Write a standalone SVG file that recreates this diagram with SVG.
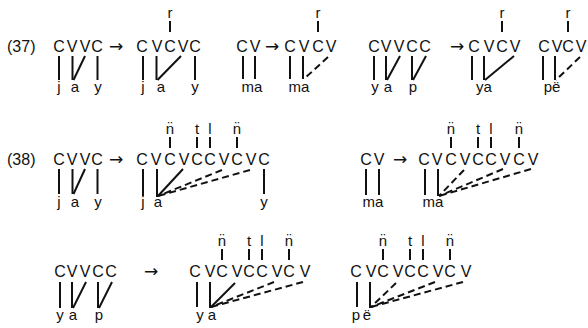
<svg xmlns="http://www.w3.org/2000/svg" width="588" height="328" viewBox="0 0 588 328">
<style>
text{font-family:"Liberation Sans",Arial,"DejaVu Sans",sans-serif;fill:#111;}
.cap{font-size:16px;text-anchor:middle;}
.lab{font-size:16px;}
.seg{font-size:15px;text-anchor:middle;}
.sup{font-size:15px;text-anchor:middle;}
.arr{font-family:"DejaVu Sans",sans-serif;font-size:17px;text-anchor:middle;}
line{stroke:#111;stroke-width:2;fill:none;}
.ds{stroke-dasharray:7 4;}
</style>
<rect width="588" height="328" fill="#fff"/>
<text class="lab" x="7" y="52">(37)</text>
<text class="lab" x="7" y="165">(38)</text>
<g id="arrows">
<text class="arr" x="116" y="52">→</text>
<text class="arr" x="272" y="52">→</text>
<text class="arr" x="457" y="52">→</text>
<text class="arr" x="116" y="165">→</text>
<text class="arr" x="400" y="165">→</text>
<text class="arr" x="151" y="277">→</text>
</g>
<!-- Row 37 -->
<g id="r37a-in">
<text class="cap" x="59 72 85 97" y="52">CVVC</text>
<text class="seg" x="59 75 98" y="92">jay</text>
</g>
<g id="r37a-out">
<text class="sup" x="170" y="18">r</text>
<text class="cap" x="142 157 170 183 195" y="52">CVCVC</text>
<text class="seg" x="143 161 195" y="92">jay</text>
</g>
<g id="r37b-in">
<text class="cap" x="242 255" y="52">CV</text>
<text class="seg" x="252" y="92">ma</text>
</g>
<g id="r37b-out">
<text class="sup" x="318" y="18">r</text>
<text class="cap" x="290 304 318 331" y="52">CVCV</text>
<text class="seg" x="299" y="92">ma</text>
</g>
<g id="r37c-in">
<text class="cap" x="374 386 399 412 425" y="52">CVVCC</text>
<text class="seg" x="375 388" y="92">ya</text>
<text class="seg" x="413" y="92">p</text>
</g>
<g id="r37c-out">
<text class="sup" x="502" y="18">r</text>
<text class="cap" x="474 489 502 515" y="52">CVCV</text>
<text class="seg" x="484" y="92">ya</text>
</g>
<g id="r37d-out">
<text class="sup" x="568" y="18">r</text>
<text class="cap" x="544 557 568 581" y="52">CVCV</text>
<text class="seg" x="552" y="92">pë</text>
</g>
<!-- Row 38 -->
<g id="r38a-in">
<text class="cap" x="59 72 85 97" y="165">CVVC</text>
<text class="seg" x="59 75 98" y="207">jay</text>
</g>
<g id="r38a-out">
<text class="sup" x="170" y="134">n̈</text>
<text class="sup" x="197" y="134">t</text>
<text class="sup" x="210" y="134">l</text>
<text class="sup" x="237" y="134">n̈</text>
<text class="cap" x="142 156 170 184 197 210 224 237 251 264" y="165">CVCVCCVCVC</text>
<text class="seg" x="143 158" y="207">ja</text>
<text class="seg" x="264" y="207">y</text>
</g>
<g id="r38b-in">
<text class="cap" x="366 379" y="165">CV</text>
<text class="seg" x="373" y="207">ma</text>
</g>
<g id="r38b-out">
<text class="sup" x="451" y="134">n̈</text>
<text class="sup" x="478" y="134">t</text>
<text class="sup" x="491" y="134">l</text>
<text class="sup" x="519" y="134">n̈</text>
<text class="cap" x="424 437 451 465 478 491 505 519 533" y="165">CVCVCCVCV</text>
<text class="seg" x="433" y="207">ma</text>
</g>
<!-- Row 3 -->
<g id="r3a-in">
<text class="cap" x="60 72 85 98 111" y="277">CVVCC</text>
<text class="seg" x="60 73" y="320">ya</text>
<text class="seg" x="99" y="320">p</text>
</g>
<g id="r3b-out">
<text class="sup" x="222" y="246">n̈</text>
<text class="sup" x="249" y="246">t</text>
<text class="sup" x="262" y="246">l</text>
<text class="sup" x="289" y="246">n̈</text>
<text class="cap" x="195 210 222 237 249 262 277 289 305" y="277">CVCVCCVCV</text>
<text class="seg" x="200 212" y="320">ya</text>
</g>
<g id="r3c-out">
<text class="sup" x="383" y="246">n̈</text>
<text class="sup" x="410" y="246">t</text>
<text class="sup" x="423" y="246">l</text>
<text class="sup" x="450" y="246">n̈</text>
<text class="cap" x="356 371 383 398 410 423 438 450 466" y="277">CVCVCCVCV</text>
<text class="seg" x="356 367" y="320">pë</text>
</g>
<g id="connectors">
<line x1="170" y1="21" x2="170" y2="32"/>
<line x1="318" y1="21" x2="318" y2="32"/>
<line x1="502" y1="21" x2="502" y2="32"/>
<line x1="568" y1="21" x2="568" y2="32"/>
<line x1="59" y1="56" x2="59" y2="80"/>
<line x1="72.5" y1="56" x2="72.5" y2="80"/>
<line x1="85" y1="56" x2="73.5" y2="80"/>
<line x1="97.5" y1="56" x2="97.5" y2="80"/>
<line x1="143" y1="56" x2="143" y2="80"/>
<line x1="156.5" y1="56" x2="156.5" y2="80"/>
<line x1="181" y1="56" x2="157.5" y2="80"/>
<line x1="195" y1="56" x2="195" y2="80"/>
<line x1="243" y1="56" x2="243" y2="79"/>
<line x1="255" y1="56" x2="255" y2="79"/>
<line x1="290" y1="56" x2="290" y2="79"/>
<line x1="303" y1="56" x2="303" y2="79"/>
<line class="ds" x1="328" y1="57" x2="304" y2="79"/>
<line x1="374" y1="56" x2="374" y2="80"/>
<line x1="386" y1="56" x2="386" y2="80"/>
<line x1="400" y1="56" x2="387" y2="80"/>
<line x1="412" y1="56" x2="412" y2="80"/>
<line x1="426" y1="56" x2="413" y2="80"/>
<line x1="472" y1="56" x2="472" y2="80"/>
<line x1="484" y1="56" x2="484" y2="80"/>
<line x1="514" y1="56" x2="485" y2="80"/>
<line x1="543" y1="56" x2="543" y2="80"/>
<line x1="555" y1="56" x2="555" y2="80"/>
<line class="ds" x1="580" y1="57" x2="556" y2="80"/>
<line x1="170" y1="137" x2="170" y2="148"/>
<line x1="197" y1="137" x2="197" y2="148"/>
<line x1="210" y1="137" x2="210" y2="148"/>
<line x1="237" y1="137" x2="237" y2="148"/>
<line x1="451" y1="137" x2="451" y2="148"/>
<line x1="478" y1="137" x2="478" y2="148"/>
<line x1="491" y1="137" x2="491" y2="148"/>
<line x1="519" y1="137" x2="519" y2="148"/>
<line x1="59" y1="169" x2="59" y2="194"/>
<line x1="72.5" y1="169" x2="72.5" y2="194"/>
<line x1="85" y1="169" x2="73.5" y2="194"/>
<line x1="97.5" y1="169" x2="97.5" y2="194"/>
<line x1="143" y1="169" x2="143" y2="196"/>
<line x1="157" y1="169" x2="157" y2="197"/>
<line x1="183" y1="169" x2="158" y2="196"/>
<line class="ds" x1="222" y1="170" x2="158" y2="196"/>
<line class="ds" x1="250" y1="170" x2="158" y2="196"/>
<line x1="264" y1="169" x2="264" y2="194"/>
<line x1="366" y1="169" x2="366" y2="195"/>
<line x1="379" y1="169" x2="379" y2="195"/>
<line x1="425" y1="169" x2="425" y2="195"/>
<line x1="438" y1="169" x2="438" y2="196"/>
<line class="ds" x1="464" y1="170" x2="439" y2="196"/>
<line class="ds" x1="503" y1="169" x2="439" y2="196"/>
<line class="ds" x1="531" y1="169" x2="439" y2="196"/>
<line x1="222" y1="249" x2="222" y2="260"/>
<line x1="249" y1="249" x2="249" y2="260"/>
<line x1="262" y1="249" x2="262" y2="260"/>
<line x1="289" y1="249" x2="289" y2="260"/>
<line x1="383" y1="249" x2="383" y2="260"/>
<line x1="410" y1="249" x2="410" y2="260"/>
<line x1="423" y1="249" x2="423" y2="260"/>
<line x1="450" y1="249" x2="450" y2="260"/>
<line x1="60" y1="282" x2="60" y2="308"/>
<line x1="72" y1="282" x2="72" y2="308"/>
<line x1="86" y1="282" x2="73" y2="308"/>
<line x1="98" y1="282" x2="98" y2="308"/>
<line x1="112" y1="282" x2="99" y2="308"/>
<line x1="197" y1="282" x2="197" y2="307"/>
<line x1="210" y1="282" x2="210" y2="308"/>
<line x1="235" y1="283" x2="211" y2="307"/>
<line class="ds" x1="274" y1="282" x2="211" y2="307"/>
<line class="ds" x1="303" y1="282" x2="211" y2="307"/>
<line x1="357" y1="282" x2="357" y2="307"/>
<line x1="370" y1="282" x2="370" y2="308"/>
<line class="ds" x1="396" y1="283" x2="371" y2="307"/>
<line class="ds" x1="435" y1="282" x2="371" y2="307"/>
<line class="ds" x1="463" y1="282" x2="371" y2="307"/>
</g>
</svg>
